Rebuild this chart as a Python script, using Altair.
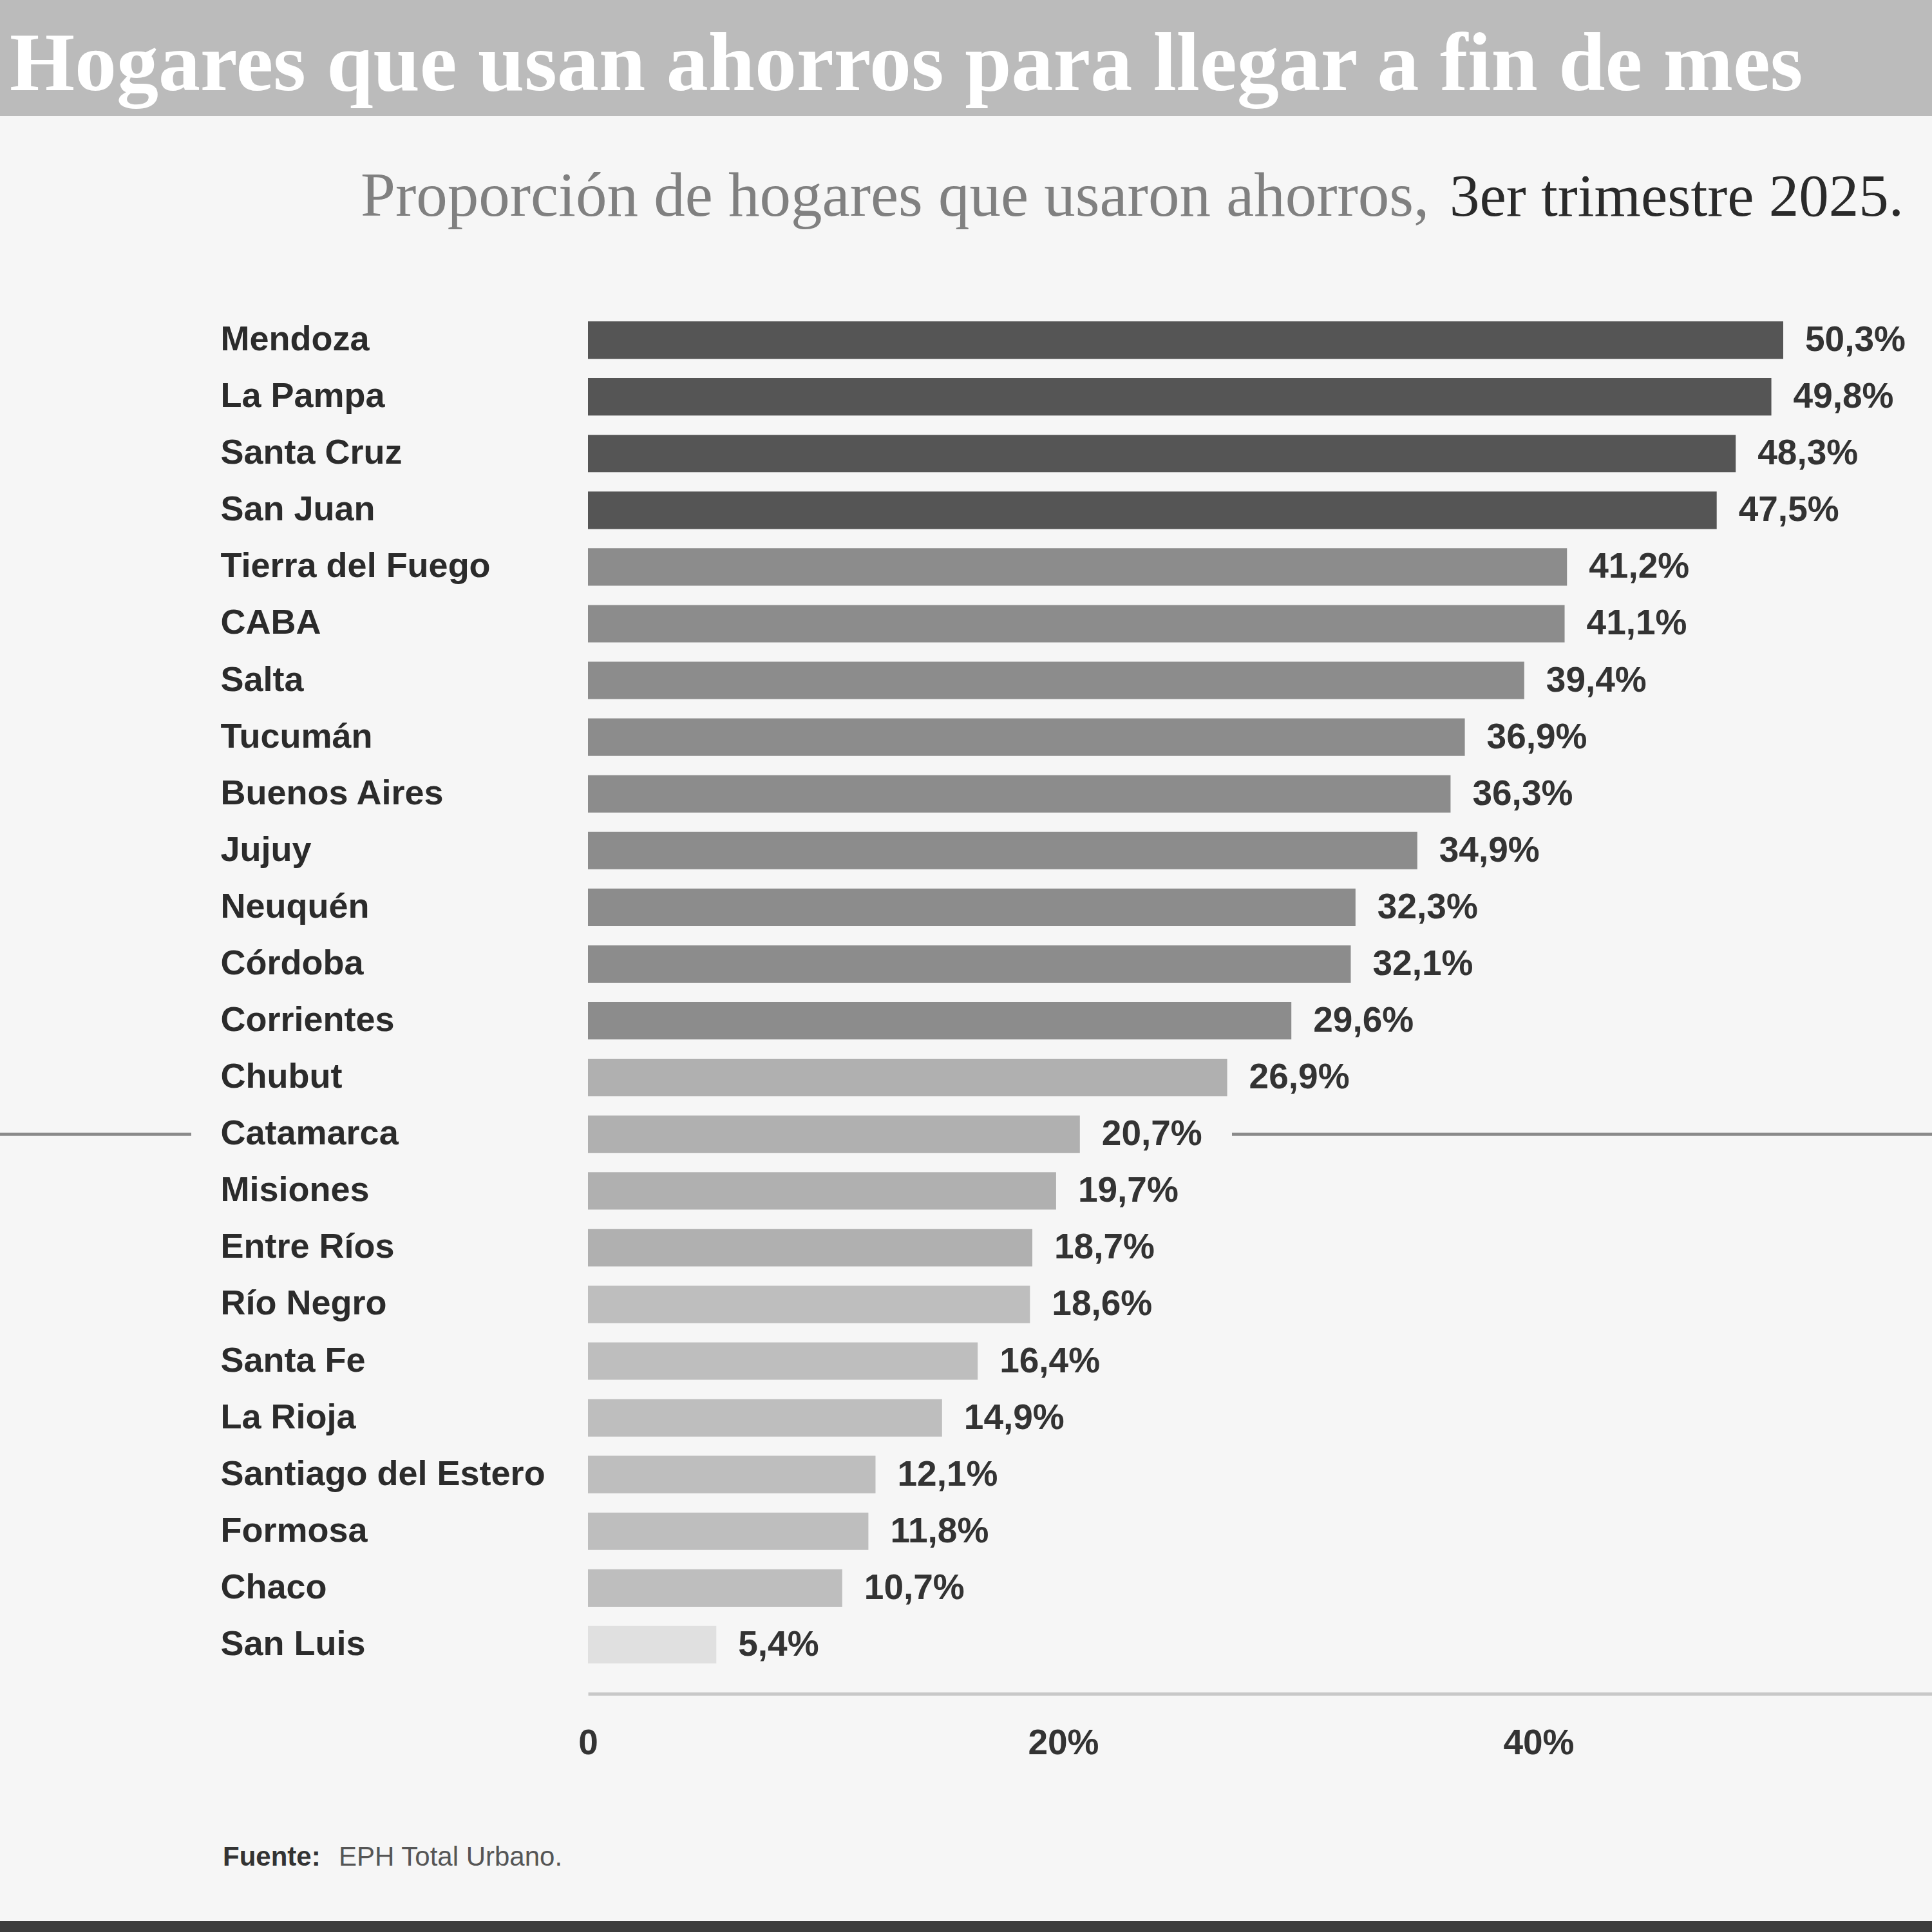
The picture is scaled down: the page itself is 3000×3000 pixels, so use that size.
import altair as alt
import pandas as pd

# ---------------- data ----------------
provincias = ["Mendoza", "La Pampa", "Santa Cruz", "San Juan", "Tierra del Fuego", "CABA",
              "Salta", "Tucumán", "Buenos Aires", "Jujuy", "Neuquén", "Córdoba", "Corrientes",
              "Chubut", "Catamarca", "Misiones", "Entre Ríos", "Río Negro", "Santa Fe",
              "La Rioja", "Santiago del Estero", "Formosa", "Chaco", "San Luis"]
valores = [50.3, 49.8, 48.3, 47.5, 41.2, 41.1, 39.4, 36.9, 36.3, 34.9, 32.3, 32.1, 29.6,
           26.9, 20.7, 19.7, 18.7, 18.6, 16.4, 14.9, 12.1, 11.8, 10.7, 5.4]
grupos = ["g1"] * 4 + ["g2"] * 9 + ["g3"] * 4 + ["g4"] * 6 + ["g5"]
grupo_dominio = ["g1", "g2", "g3", "g4", "g5"]
grupo_colores = ["#555555", "#8c8c8c", "#b0b0b0", "#bebebe", "#e0e0e0"]
ticks_x = [0, 20, 40]

titulo = "Hogares que usan ahorros para llegar a fin de mes"
subtitulo_gris = "Proporción de hogares que usaron ahorros,"
subtitulo_oscuro = "3er trimestre 2025."
fuente_neg = "Fuente:"
fuente_txt = "EPH Total Urbano."
linea_ref = "Catamarca"

df = pd.DataFrame({
    "provincia": provincias,
    "valor": valores,
    "grupo": grupos,
    "etiqueta": [f"{v:.1f}".replace(".", ",") + "%" for v in valores],
})

# ---------------- layout ----------------
W, H = 2087, 2150
PAD_L, PAD_T, PAD_B = 913, 480, 370
SANS = "Liberation Sans, Arial, Helvetica, sans-serif"
SERIF = "Liberation Serif, Times New Roman, serif"

x_enc = alt.X("valor:Q",
              scale=alt.Scale(domain=[0, 56.56], range=[0, W], nice=False, zero=True),
              axis=alt.Axis(values=ticks_x,
                            labelExpr="datum.value == 0 ? '0' : datum.value + '%'",
                            domainColor="#c8c8c8", domainWidth=5, ticks=False, tickSize=0,
                            grid=False, labelPadding=50, labelFontSize=55, labelFont=SANS,
                            labelFontWeight="bold", labelColor="#333333", labelFlush=False,
                            labelLimit=1000, title=None))
y_enc = alt.Y("provincia:N",
              sort=provincias,
              scale=alt.Scale(domain=provincias, range=[19, 2103], paddingInner=0.34,
                              paddingOuter=0),
              axis=alt.Axis(labelAlign="left", labelPadding=571, ticks=False, tickSize=0,
                            domain=False, labelFontSize=54, labelFont=SANS,
                            labelFontWeight="bold", labelColor="#2b2b2b", labelLimit=1000,
                            labelBaseline="middle", title=None))

base = alt.Chart(df)

bars = base.mark_bar().encode(
    x=x_enc,
    y=y_enc,
    color=alt.Color("grupo:N", scale=alt.Scale(domain=grupo_dominio, range=grupo_colores),
                    legend=None),
)

values_text = base.mark_text(align="left", baseline="middle", dx=34, fontSize=55,
                             font=SANS, fontWeight="bold", color="#333333").encode(
    x="valor:Q",
    y=alt.Y("provincia:N", sort=provincias),
    text="etiqueta:N",
)

one = pd.DataFrame({"k": [0]})

band_top = alt.Chart(one).mark_rect(color="#bbbbbb").encode(
    x=alt.value(-PAD_L), x2=alt.value(W), y=alt.value(-PAD_T), y2=alt.value(180 - PAD_T))

band_bottom = alt.Chart(one).mark_rect(color="#3c3c3c").encode(
    x=alt.value(-PAD_L), x2=alt.value(W), y=alt.value(2983 - PAD_T), y2=alt.value(3000 - PAD_T))

title_text = alt.Chart(pd.DataFrame({"t": [titulo]})).mark_text(
    align="left", baseline="alphabetic", font=SERIF, fontWeight="bold", fontSize=130,
    color="#ffffff").encode(x=alt.value(15 - PAD_L), y=alt.value(140 - PAD_T), text="t:N")

sub1 = alt.Chart(pd.DataFrame({"t": [subtitulo_gris]})).mark_text(
    align="left", baseline="alphabetic", font=SERIF, fontSize=97, color="#808080").encode(
    x=alt.value(560 - PAD_L), y=alt.value(335 - PAD_T), text="t:N")

sub2 = alt.Chart(pd.DataFrame({"t": [subtitulo_oscuro]})).mark_text(
    align="right", baseline="alphabetic", font=SERIF, fontSize=93, color="#2a2a2a").encode(
    x=alt.value(2956 - PAD_L), y=alt.value(335 - PAD_T), text="t:N")

foot1 = alt.Chart(pd.DataFrame({"t": [fuente_neg]})).mark_text(
    align="left", baseline="alphabetic", font=SANS, fontWeight="bold", fontSize=42,
    color="#333333").encode(x=alt.value(346 - PAD_L), y=alt.value(2897 - PAD_T), text="t:N")

foot2 = alt.Chart(pd.DataFrame({"t": [fuente_txt]})).mark_text(
    align="left", baseline="alphabetic", font=SANS, fontSize=42,
    color="#555555").encode(x=alt.value(526 - PAD_L), y=alt.value(2897 - PAD_T), text="t:N")

ref_df = pd.DataFrame({"provincia": [linea_ref]})
ref_left = alt.Chart(ref_df).mark_rule(color="#8a8a8a", strokeWidth=5).encode(
    y=alt.Y("provincia:N", sort=provincias), x=alt.value(-PAD_L), x2=alt.value(297 - PAD_L))
ref_right = alt.Chart(ref_df).mark_rule(color="#8a8a8a", strokeWidth=5).encode(
    y=alt.Y("provincia:N", sort=provincias), x=alt.value(1913 - PAD_L), x2=alt.value(W))

chart = alt.layer(
    band_top, band_bottom, title_text, sub1, sub2, foot1, foot2,
    ref_left, ref_right, bars, values_text
).properties(
    width=W, height=H,
    autosize=alt.AutoSizeParams(type="none"),
    padding={"left": PAD_L, "top": PAD_T, "right": 0, "bottom": PAD_B},
    background="#f6f6f6",
).configure_view(stroke=None)

chart.save("out.html", embed_options={"renderer": "svg", "actions": False})
